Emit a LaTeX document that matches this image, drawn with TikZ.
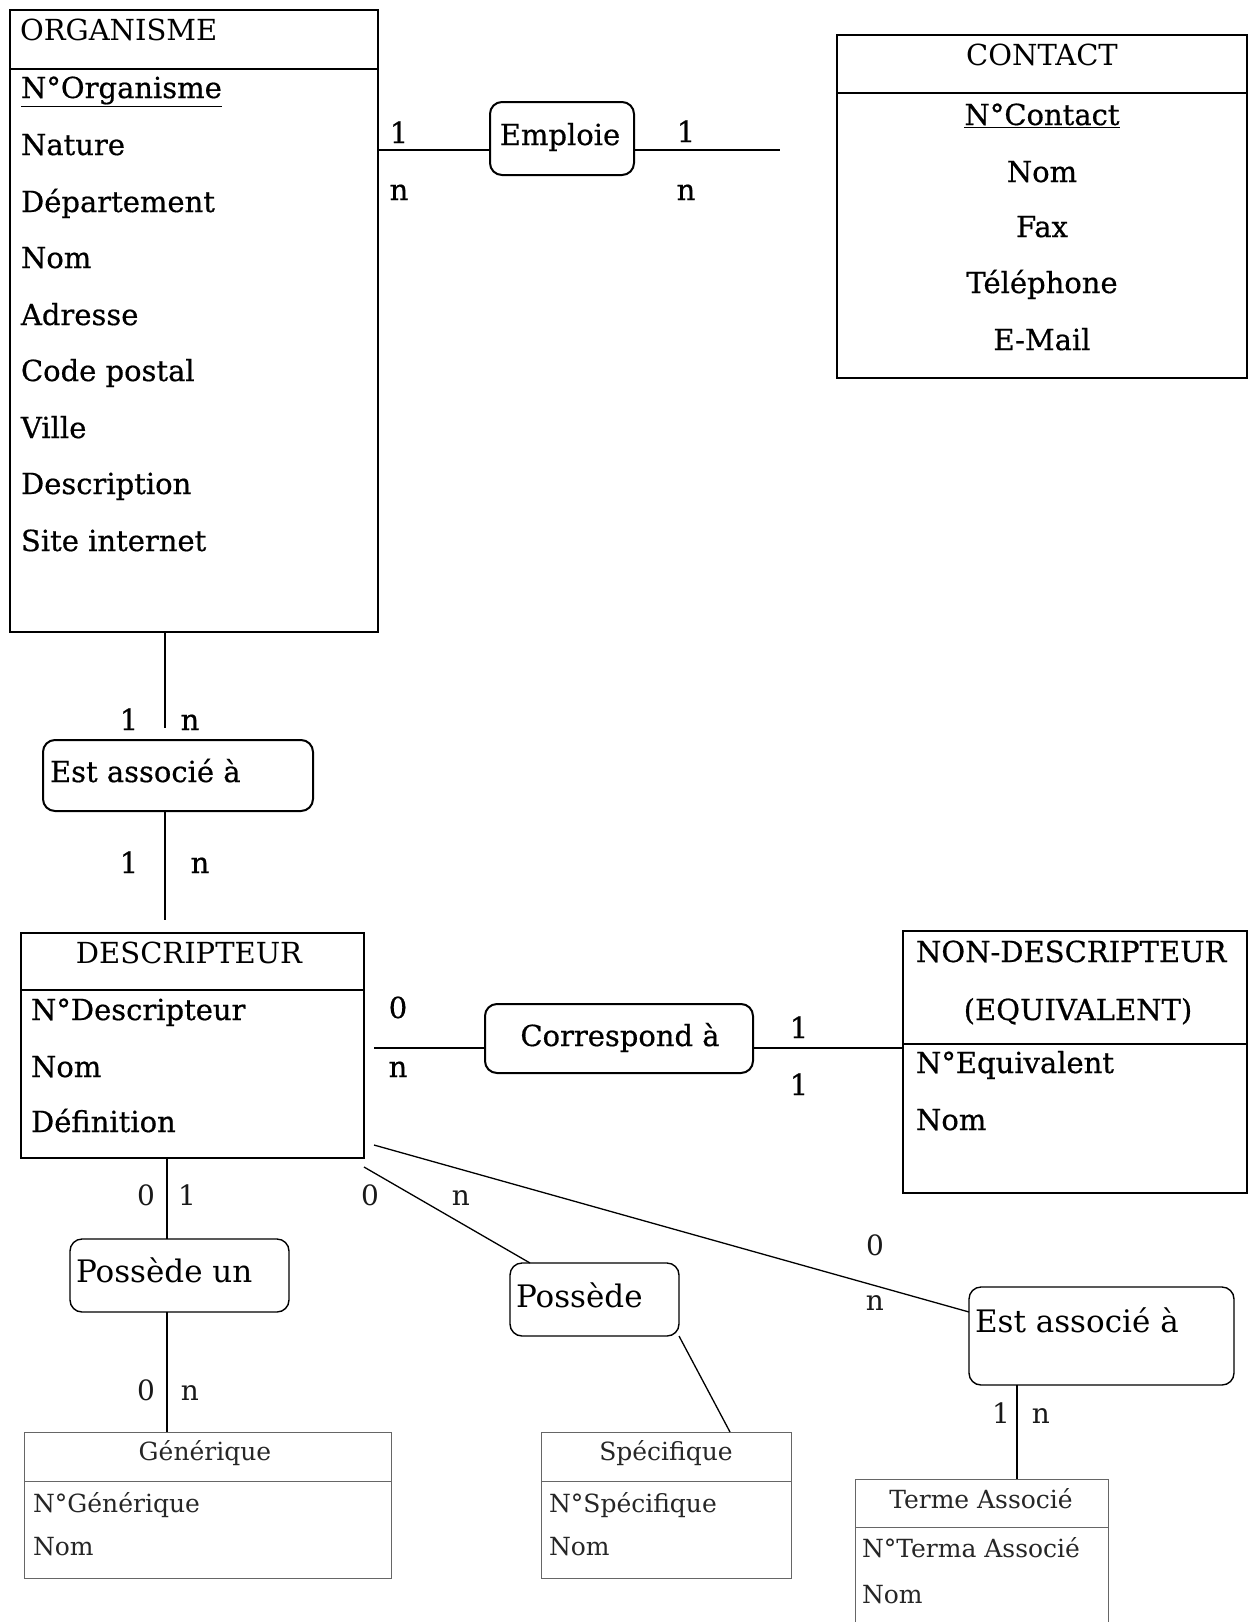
\documentclass[tikz,border=0pt]{standalone}
\usepackage{fontspec}
\setmainfont{DejaVu Serif}
\newfontfamily\heavyserif{DejaVu Serif}[FakeBold=0.6]
\begin{document}
\begin{tikzpicture}[x=1pt,y=-1pt,
  ent/.style={draw, line width=2pt, inner sep=0pt, outer sep=0pt, anchor=north west},
  sent/.style={draw=black!60, line width=0.9pt, inner sep=0pt, outer sep=0pt, anchor=north west},
  rel/.style={draw, line width=2pt, rounded corners=12pt, inner sep=0pt, outer sep=0pt, anchor=north west},
  srel/.style={draw, line width=1.4pt, rounded corners=12pt, inner sep=0pt, outer sep=0pt, anchor=north west},
  sepline/.style={line width=2pt},
  ssepline/.style={line width=0.9pt, draw=black!60},
  conn/.style={line width=2pt},
  sconn/.style={line width=1.3pt},
  txt/.style={inner sep=0pt, outer sep=0pt, font=\heavyserif\fontsize{29}{34}\selectfont},
  ttl/.style={inner sep=0pt, outer sep=0pt, font=\fontsize{29}{34}\selectfont},
  rtxt/.style={inner sep=0pt, outer sep=0pt, font=\fontsize{31}{36}\selectfont},
  stxt/.style={inner sep=0pt, outer sep=0pt, font=\fontsize{25}{30}\selectfont, text=black!85},
  card/.style={txt, anchor=base},
  scard/.style={inner sep=0pt, outer sep=0pt, font=\fontsize{28}{32}\selectfont, anchor=base, text=black!90},
]
\useasboundingbox (0,0) rectangle (1250,1622);

% ---------------- ORGANISME
\node[ent, minimum width=368pt, minimum height=622pt] (org) at (10,10) {};
\draw[sepline] (10,69) -- (378,69);
\node[ttl, anchor=base west] (orgT) at (20,40) {ORGANISME};
\node[txt, anchor=base west] (orgA1) at (21,98) {\underline{N°Organisme}};
\node[txt, anchor=base west] (orgA2) at (21,155) {Nature};
\node[txt, anchor=base west] (orgA3) at (21,212) {Département};
\node[txt, anchor=base west] (orgA4) at (21,268) {Nom};
\node[txt, anchor=base west] (orgA5) at (21,325) {Adresse};
\node[txt, anchor=base west] (orgA6) at (21,381) {Code postal};
\node[txt, anchor=base west] (orgA7) at (21,438) {Ville};
\node[txt, anchor=base west] (orgA8) at (21,494) {Description};
\node[txt, anchor=base west] (orgA9) at (21,551) {Site internet};

% ---------------- CONTACT
\node[ent, minimum width=410pt, minimum height=343pt] (contact) at (837,35) {};
\draw[sepline] (837,93) -- (1247,93);
\node[ttl, anchor=base] (conT) at (1042,65) {CONTACT};
\node[txt, anchor=base] (conA1) at (1042,125) {\underline{N°Contact}};
\node[txt, anchor=base] (conA2) at (1042,182) {Nom};
\node[txt, anchor=base] (conA3) at (1042,237) {Fax};
\node[txt, anchor=base] (conA4) at (1042,293) {Téléphone};
\node[txt, anchor=base] (conA5) at (1042,350) {E-Mail};

% ---------------- Emploie
\node[rel, minimum width=144pt, minimum height=73pt] (emp) at (490,102) {};
\node[txt, anchor=base] (empT) at (560,145) {Emploie};
\coordinate (empL) at (490,150);
\coordinate (empR) at (634,150);
\coordinate (empEnd) at (780,150);
\node[card] (c1) at (399,143) {1};
\node[card] (c2) at (399,200) {n};
\node[card] (c3) at (686,142) {1};
\node[card] (c4) at (686,200) {n};

% ---------------- Est associé à (1)
\node[rel, minimum width=270pt, minimum height=71pt] (ea1) at (43,740) {};
\node[txt, anchor=base west] (ea1T) at (50,782) {Est associé à};
\coordinate (v1) at (165,728);
\coordinate (v2) at (165,920);
\node[card] (c5) at (129,730) {1};
\node[card] (c6) at (190,730) {n};
\node[card] (c7) at (129,873) {1};
\node[card] (c8) at (200,873) {n};

% ---------------- DESCRIPTEUR
\node[ent, minimum width=343pt, minimum height=225pt] (desc) at (21,933) {};
\draw[sepline] (21,990) -- (364,990);
\node[ttl, anchor=base] (descT) at (189,963) {DESCRIPTEUR};
\node[txt, anchor=base west] (descA1) at (31,1020) {N°Descripteur};
\node[txt, anchor=base west] (descA2) at (31,1077) {Nom};
\node[txt, anchor=base west] (descA3) at (31,1132) {Définition};

% ---------------- Correspond à
\node[rel, minimum width=268pt, minimum height=69pt] (corr) at (485,1004) {};
\node[txt, anchor=base] (corrT) at (620,1046) {Correspond à};
\coordinate (corrL) at (374,1048);
\node[card] (c9) at (398,1018) {0};
\node[card] (c10) at (398,1077) {n};
\node[card] (c11) at (799,1038) {1};
\node[card] (c12) at (799,1095) {1};

% ---------------- NON-DESCRIPTEUR
\node[ent, minimum width=344pt, minimum height=262pt] (nondesc) at (903,931) {};
\draw[sepline] (903,1044) -- (1247,1044);
\node[txt, anchor=base west] (ndT1) at (916,962) {NON-DESCRIPTEUR};
\node[txt, anchor=base] (ndT2) at (1078,1020) {(EQUIVALENT)};
\node[txt, anchor=base west] (ndA1) at (916,1073) {N°Equivalent};
\node[txt, anchor=base west] (ndA2) at (916,1130) {Nom};

% ---------------- Possède un
\node[srel, minimum width=219pt, minimum height=73pt] (pun) at (70,1239) {};
\node[rtxt, anchor=base west] (punT) at (76,1282) {Possède un};
\coordinate (x167) at (167,0);
\node[scard] (c13) at (146,1205) {0};
\node[scard] (c14) at (187,1205) {1};
\node[scard] (c15) at (146,1400) {0};
\node[scard] (c16) at (190,1400) {n};

% ---------------- Générique
\node[sent, minimum width=367pt, minimum height=146pt] (gen) at (24,1432) {};
\draw[ssepline] (24,1481) -- (391,1481);
\node[stxt, anchor=base] (genT) at (205,1460) {Générique};
\node[stxt, anchor=base west] (genA1) at (33,1512) {N°Générique};
\node[stxt, anchor=base west] (genA2) at (33,1555) {Nom};

% ---------------- Possède
\node[srel, minimum width=169pt, minimum height=73pt] (pos) at (510,1263) {};
\node[rtxt, anchor=base west] (posT) at (516,1307) {Possède};
\node[scard] (c17) at (370,1205) {0};
\node[scard] (c18) at (461,1205) {n};

% ---------------- Spécifique
\node[sent, minimum width=250pt, minimum height=146pt] (spec) at (541,1432) {};
\draw[ssepline] (541,1481) -- (791,1481);
\node[stxt, anchor=base] (specT) at (666,1460) {Spécifique};
\node[stxt, anchor=base west] (specA1) at (549,1512) {N°Spécifique};
\node[stxt, anchor=base west] (specA2) at (549,1555) {Nom};

% ---------------- Est associé à (2)
\node[srel, minimum width=265pt, minimum height=98pt] (ea2) at (969,1287) {};
\node[rtxt, anchor=base west] (ea2T) at (975,1332) {Est associé à};
\node[scard] (c19) at (875,1255) {0};
\node[scard] (c20) at (875,1310) {n};
\coordinate (x1017) at (1017,0);
\node[scard] (c21) at (1001,1423) {1};
\node[scard] (c22) at (1041,1423) {n};

% ---------------- Terme Associé (open at the bottom)
\node[inner sep=0pt, outer sep=0pt, anchor=north west, minimum width=253pt, minimum height=150pt] (terme) at (855,1479) {};
\draw[ssepline] (terme.south west) -- (terme.north west) -- (terme.north east) -- (terme.south east);
\draw[ssepline] (855,1527) -- (1108,1527);
\node[stxt, anchor=base] (termeT) at (981,1508) {Terme Associé};
\node[stxt, anchor=base west] (termeA1) at (862,1557) {N°Terma Associé};
\node[stxt, anchor=base west] (termeA2) at (862,1603) {Nom};

% ================= connectors
\draw[conn] (empL -| org.east) -- (empL);
\draw[conn] (empR) -- (empEnd);
\draw[conn] (v1 |- org.south) -- (v1);
\draw[conn] (v2 |- ea1.south) -- (v2);
\draw[conn] (corrL) -- (corrL -| corr.west);
\draw[conn] (corrL -| corr.east) -- (corrL -| nondesc.west);
\draw[sconn] (desc.south -| x167) -- (pun.north -| x167);
\draw[sconn] (pun.south -| x167) -- (gen.north -| x167);
\draw[sconn] ([yshift=-9pt]desc.south east) -- ([xshift=20pt]pos.north west);
\draw[sconn] (pos.south east) -- ([xshift=-61pt]spec.north east);
\draw[sconn] ([xshift=10pt,yshift=13pt]desc.south east) -- ([yshift=-25pt]ea2.north west);
\draw[sconn] (ea2.south -| x1017) -- (terme.north -| x1017);
\end{tikzpicture}
\end{document}
